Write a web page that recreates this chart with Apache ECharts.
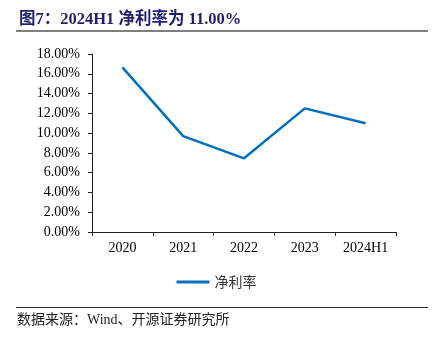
<!DOCTYPE html>
<html>
<head>
<meta charset="utf-8">
<script src="https://cdn.jsdelivr.net/npm/echarts@6/dist/echarts.min.js"></script>
<style>
html,body{margin:0;padding:0;background:#fff;}
#c{width:433px;height:343px;}
</style>
</head>
<body>
<div id="c"></div>
<script>
var categories = ['2020', '2021', '2022', '2023', '2024H1'];
var netMargin = [16.65, 9.7, 7.45, 12.5, 11.0];
var seriesName = '净利率';
var titleText = '图7：2024H1 净利率为 11.00%';
var sourceText = '数据来源：Wind、开源证券研究所';

var chart = echarts.init(document.getElementById('c'), null, {renderer: 'canvas'});
var serif = '"Times New Roman", "Liberation Serif", "Noto Sans CJK SC", serif';
chart.setOption({
  animation: false,
  backgroundColor: '#fff',
  title: {
    text: titleText,
    left: 14, top: 6,
    textStyle: {fontFamily: serif, fontWeight: 'bold', fontSize: 16.5, color: '#1f1f6e'}
  },
  grid: {left: 92, right: 37, top: 54, bottom: 111, containLabel: false},
  legend: {
    data: [seriesName],
    left: 'center', top: 270,
    itemWidth: 33, itemHeight: 3, itemGap: 4,
    icon: 'rect',
    textStyle: {fontFamily: '"Noto Sans CJK SC", sans-serif', fontSize: 14, color: '#333'}
  },
  xAxis: {
    type: 'category',
    data: categories,
    boundaryGap: true,
    axisLine: {lineStyle: {color: '#222', width: 1}},
    axisTick: {show: true, length: 4, inside: false, alignWithLabel: false, lineStyle: {color: '#222'}},
    axisLabel: {fontFamily: serif, fontSize: 14, color: '#000', margin: 9}
  },
  yAxis: {
    type: 'value',
    min: 0, max: 18, interval: 2,
    axisLine: {show: true, lineStyle: {color: '#222', width: 1}},
    axisTick: {show: true, length: 4, lineStyle: {color: '#222'}},
    splitLine: {show: false},
    axisLabel: {fontFamily: serif, fontSize: 14, color: '#000', margin: 12,
      formatter: function (v) { return v.toFixed(2) + '%'; }}
  },
  series: [{
    name: seriesName,
    type: 'line',
    data: netMargin,
    symbol: 'none',
    lineStyle: {color: '#0070c0', width: 2.5},
    itemStyle: {color: '#0070c0'}
  }],
  graphic: [
    {type: 'line', shape: {x1: 16, y1: 31, x2: 428, y2: 31}, style: {stroke: '#7f7f7f', lineWidth: 2}},
    {type: 'line', shape: {x1: 16, y1: 307.5, x2: 428, y2: 307.5}, style: {stroke: '#333', lineWidth: 1}},
    {type: 'text', left: 17, top: 313, style: {text: sourceText, font: '14px ' + serif, fill: '#222'}}
  ]
});
</script>
</body>
</html>
